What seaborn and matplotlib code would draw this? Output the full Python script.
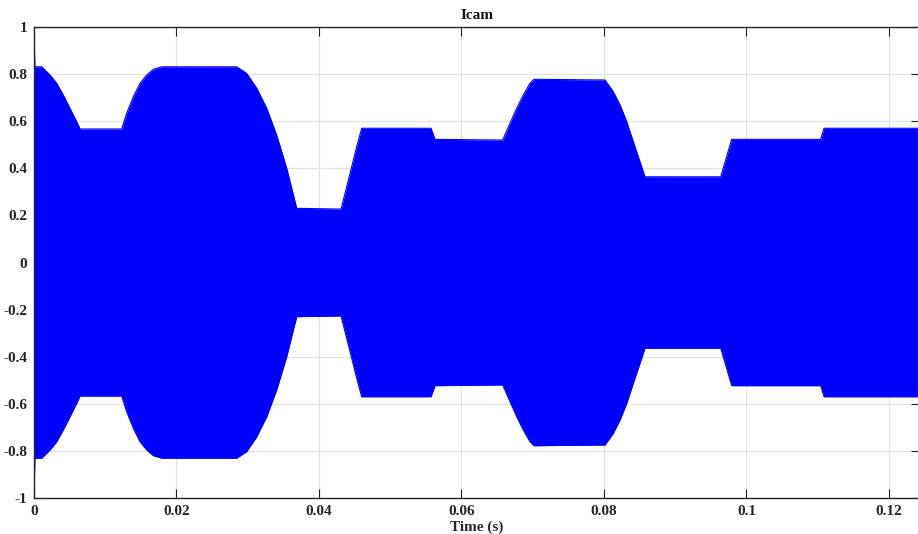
import numpy as np
import pandas as pd
import matplotlib
matplotlib.use("Agg")
import matplotlib.pyplot as plt
import seaborn as sns

# Envelope of the camera current Icam (peak values of the fast oscillation)
time_s = [0.0, 0.00012, 0.00108, 0.00225, 0.00319, 0.00411, 0.00505, 0.00599, 0.00646,
          0.01231, 0.01301, 0.01394, 0.01488, 0.01582, 0.01674, 0.01792,
          0.02845, 0.02985, 0.03126, 0.03266, 0.03406, 0.03547, 0.03687,
          0.04309, 0.04389, 0.04459, 0.04529, 0.04599,
          0.05572, 0.05628,
          0.06578, 0.06681, 0.06775, 0.06867, 0.06961, 0.07018,
          0.08014, 0.08131, 0.08225, 0.08319, 0.08411, 0.08505, 0.08575,
          0.09638, 0.09792,
          0.11041, 0.11088, 0.1250]
upper_peak = [0.97, 0.831, 0.831, 0.796, 0.761, 0.711, 0.655, 0.598, 0.567,
              0.567, 0.634, 0.704, 0.761, 0.796, 0.820, 0.831,
              0.831, 0.803, 0.740, 0.655, 0.541, 0.400, 0.230,
              0.227, 0.322, 0.407, 0.492, 0.570,
              0.570, 0.523,
              0.520, 0.591, 0.655, 0.711, 0.761, 0.778,
              0.775, 0.725, 0.669, 0.598, 0.513, 0.428, 0.364,
              0.364, 0.523,
              0.523, 0.570, 0.570]
lower_peak = [-1.0] + [-v for v in upper_peak[1:]]

x_ticks = [0, 0.02, 0.04, 0.06, 0.08, 0.1, 0.12]
x_tick_labels = ["0", "0.02", "0.04", "0.06", "0.08", "0.1", "0.12"]
y_ticks = [-1, -0.8, -0.6, -0.4, -0.2, 0, 0.2, 0.4, 0.6, 0.8, 1]
y_tick_labels = ["-1", "-0.8", "-0.6", "-0.4", "-0.2", "0", "0.2", "0.4", "0.6", "0.8", "1"]

df = pd.DataFrame({"t": time_s, "upper": upper_peak, "lower": lower_peak})

sns.set_theme(style="whitegrid")
plt.rcParams["font.family"] = ["Liberation Serif", "DejaVu Serif"]
plt.rcParams["font.weight"] = "bold"

fig = plt.figure(figsize=(9.18, 5.34), dpi=100)
ax = fig.add_axes([34 / 918, 36 / 534, 886 / 918, 471 / 534])
ax.set_axisbelow(True)

blue = "#0000ff"
ax.fill_between(df["t"], df["lower"], df["upper"], color=blue, linewidth=0, zorder=2)
sns.lineplot(data=df, x="t", y="upper", ax=ax, color=blue, linewidth=0.8, zorder=2)
sns.lineplot(data=df, x="t", y="lower", ax=ax, color=blue, linewidth=0.8, zorder=2)

ax.set_xlim(0, 886 / 7125)
ax.set_ylim(-1, 1)
ax.set_xticks(x_ticks)
ax.set_xticklabels(x_tick_labels)
ax.set_yticks(y_ticks)
ax.set_yticklabels(y_tick_labels)

ax.set_facecolor("white")
ax.grid(True, color="#e3e3e3", linewidth=0.9, zorder=0)

for side, spine in ax.spines.items():
    spine.set_visible(True)
    spine.set_color("#262626")
    spine.set_linewidth(1.0)
    spine.set_zorder(3)

ax.tick_params(axis="both", which="both", direction="in", length=6.5, width=0.8,
               color="#262626", labelsize=11, labelcolor="#262626",
               top=True, right=True, bottom=True, left=True, pad=5)
for lbl in ax.get_xticklabels() + ax.get_yticklabels():
    lbl.set_fontweight("bold")

ax.set_title("Icam", fontsize=11, fontweight="bold", color="#111111", pad=6)
ax.set_xlabel("Time (s)", fontsize=11, fontweight="bold", color="#262626", labelpad=2)
ax.set_ylabel("")

fig.savefig("out.png", dpi=100, facecolor="white")
